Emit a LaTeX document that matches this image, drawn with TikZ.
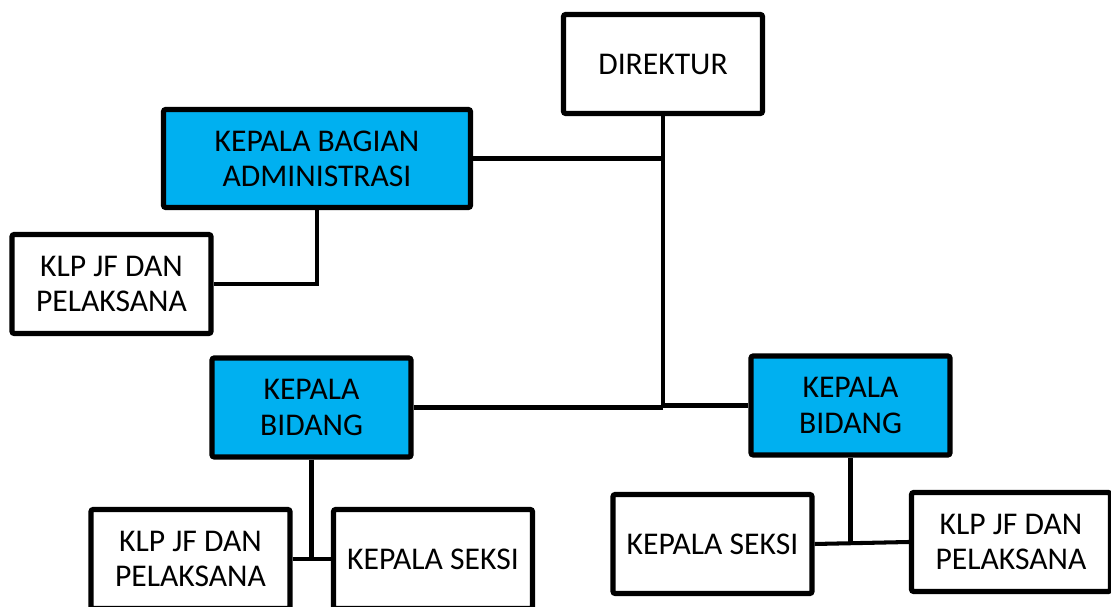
\documentclass[tikz,border=0pt]{standalone}
\usepackage{fontspec}
\setmainfont{Carlito}
\definecolor{kabiru}{HTML}{00B0F0}

\begin{document}
\begin{tikzpicture}[
	box/.style={draw, line width=1.45pt, rounded corners=0.6pt, align=center,
		minimum width=1.99cm, minimum height=0.99cm, inner sep=0pt,
		font=\fontsize{9}{10}\selectfont},
	kabox/.style={box, fill=kabiru},
	link/.style={line width=1.15pt}
]

	\useasboundingbox (0,0) rectangle (11.11,-6.07);

	% atas
	\node [box] (dir) at (6.63,-0.64) {DIREKTUR};
	\node [kabox, minimum width=3.07cm, minimum height=0.98cm] (kba) at (3.17,-1.585) {KEPALA BAGIAN\\ADMINISTRASI};
	\node [box] (klpA) at (1.115,-2.84) {KLP JF DAN\\PELAKSANA};

	% bidang
	\node [kabox] (bidL) at (3.115,-4.075) {KEPALA\\BIDANG};
	\node [kabox] (bidR) at (8.505,-4.055) {KEPALA\\BIDANG};

	% bawah
	\node [box] (klpB) at (1.905,-5.59) {KLP JF DAN\\PELAKSANA};
	\node [box] (seksiL) at (4.33,-5.59) {KEPALA SEKSI};
	\node [box] (seksiR) at (7.125,-5.44) {KEPALA SEKSI};
	\node [box] (klpC) at (10.11,-5.42) {KLP JF DAN\\PELAKSANA};

	\draw [link] (dir.south) -- (dir.south |- bidL.east);
	\draw [link] (kba.east) -- (kba.east -| dir.south);
	\draw [link] (kba.south) |- (klpA.east);
	\draw [link] (bidL.east) -- (bidL.east -| dir.south);
	\draw [link] (bidR.west) -- (bidR.west -| dir.south);

	\draw [link] (bidL.south) -- (bidL.south |- klpB.east);
	\draw [link] (klpB.east) -- (seksiL.west);
	\draw [link] (bidR.south) -- (bidR.south |- seksiR.east);
	\draw [link] (seksiR.east) -- (klpC.west);

\end{tikzpicture}
\end{document}
